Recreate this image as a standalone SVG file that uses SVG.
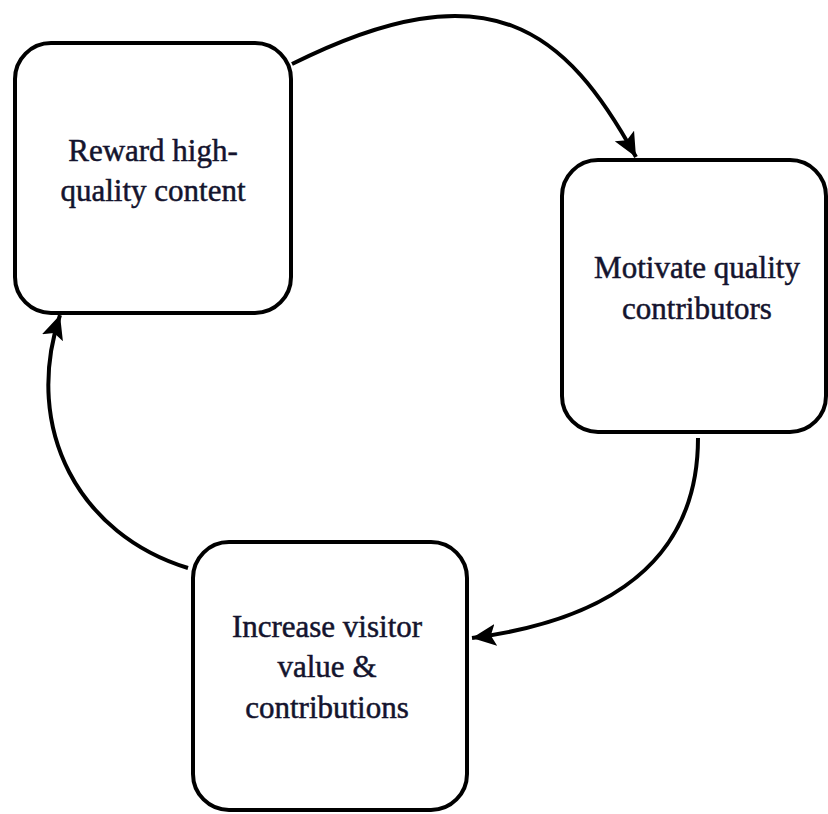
<svg xmlns="http://www.w3.org/2000/svg" width="828" height="814" viewBox="0 0 828 814">
<defs>
<marker id="ah" markerUnits="userSpaceOnUse" markerWidth="26" markerHeight="24" refX="24" refY="11" orient="auto">
<path d="M0,0 L24,11 L0,22 L5,11 Z" fill="#000"/>
</marker>
<style>
.box{fill:#fff;stroke:#000;stroke-width:4}
.lbl{font-family:"Liberation Serif","Times New Roman",serif;font-size:31px;fill:#14142e;stroke:#14142e;stroke-width:0.5;text-anchor:middle}
.conn{fill:none;stroke:#000;stroke-width:4;marker-end:url(#ah)}
</style>
</defs>
<rect width="828" height="814" fill="#fff"/>
<g id="connectors">
<path class="conn" d="M292,64 C490,-35 566,30 636,157"/>
<path class="conn" d="M698,438 C698,560 610,620 472,638"/>
<path class="conn" d="M188,568 C80,535 22,430 60,315"/>
</g>
<g id="node-reward">
<rect class="box" x="15" y="43" width="276" height="270" rx="36"/>
<text class="lbl" x="153" y="161">Reward high-</text>
<text class="lbl" x="153" y="201">quality content</text>
</g>
<g id="node-motivate">
<rect class="box" x="562" y="160" width="264" height="272" rx="36"/>
<text class="lbl" x="697" y="278">Motivate quality</text>
<text class="lbl" x="697" y="319">contributors</text>
</g>
<g id="node-increase">
<rect class="box" x="193" y="542" width="274" height="268" rx="36"/>
<text class="lbl" x="327" y="637">Increase visitor</text>
<text class="lbl" x="327" y="677">value &amp;</text>
<text class="lbl" x="327" y="718">contributions</text>
</g>
</svg>
